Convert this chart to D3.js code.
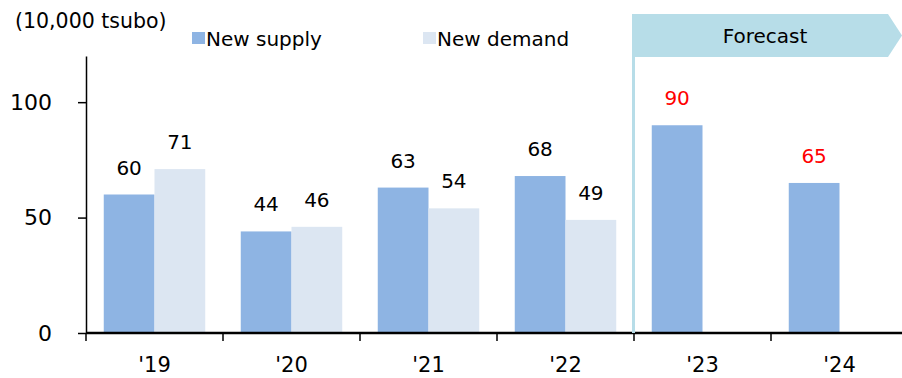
<!DOCTYPE html>
<html>
<head>
<meta charset="utf-8">
<script src="https://cdn.jsdelivr.net/npm/d3@7/dist/d3.min.js"></script>
<style>
  html, body { margin: 0; padding: 0; background: #fff; }
  svg { display: block; font-family: "DejaVu Sans", Verdana, sans-serif; }
</style>
</head>
<body>
<svg id="chart" width="902" height="378"></svg>
<script>
// Office space supply and demand, 10,000 tsubo
const years = ["'19", "'20", "'21", "'22", "'23", "'24"];
const newSupply = [60, 44, 63, 68, 90, 65];
const newDemand = [71, 46, 54, 49, null, null];
const forecastYears = ["'23", "'24"];
const yTicks = [0, 50, 100];
const seriesNames = ["New supply", "New demand"];
const seriesColors = ["#8eb4e3", "#dce6f2"];

const svg = d3.select("#chart");
const margin = { left: 86, top: 56, bottom: 333 };

const x = d3.scaleBand().domain(years).range([margin.left, 908]).paddingInner(0).paddingOuter(0);
const sub = d3.scaleBand().domain(["supply", "demand"]).range([0, x.bandwidth()])
  .paddingInner(0).paddingOuter(0.35);
const y = d3.scaleLinear().domain([0, 120]).range([margin.bottom, margin.top]);

const rows = years.map((yr, i) => ({ year: yr, supply: newSupply[i], demand: newDemand[i] }));

// Bars
const g = svg.append("g");
["supply", "demand"].forEach((key, k) => {
  const data = rows.filter(d => d[key] != null);
  g.selectAll("rect." + key).data(data).join("rect")
    .attr("class", key)
    .attr("x", d => x(d.year) + sub(key))
    .attr("width", sub.bandwidth())
    .attr("y", d => y(d[key]))
    .attr("height", d => y(0) - y(d[key]))
    .attr("fill", seriesColors[k]);
  g.selectAll("text." + key).data(data).join("text")
    .attr("class", key)
    .attr("x", d => x(d.year) + sub(key) + sub.bandwidth() / 2)
    .attr("y", d => y(d[key]) - 20)
    .attr("text-anchor", "middle")
    .attr("font-size", 20)
    .attr("fill", d => forecastYears.includes(d.year) ? "#ff0000" : "#000")
    .text(d => d[key]);
});

// Y axis
const yAxis = svg.append("g")
  .attr("transform", `translate(${margin.left},0)`)
  .call(d3.axisLeft(y).tickValues(yTicks).tickSize(8).tickPadding(26).tickSizeOuter(0));
yAxis.select(".domain").attr("stroke", "#000").attr("stroke-width", 1.5);
yAxis.selectAll(".tick line").attr("stroke", "#000").attr("stroke-width", 1.5);
yAxis.selectAll(".tick text").attr("font-size", 22).attr("fill", "#000")
  .attr("font-family", "DejaVu Sans, Verdana, sans-serif");

// X axis
const xAxis = svg.append("g")
  .attr("transform", `translate(0,${margin.bottom})`)
  .call(d3.axisBottom(x).tickSize(0).tickPadding(24).tickSizeOuter(0));
xAxis.select(".domain").remove();
xAxis.selectAll(".tick text").attr("font-size", 21).attr("fill", "#000")
  .attr("font-family", "DejaVu Sans, Verdana, sans-serif");
svg.append("line")
  .attr("x1", margin.left).attr("x2", 902)
  .attr("y1", margin.bottom).attr("y2", margin.bottom)
  .attr("stroke", "#000").attr("stroke-width", 2.5);
svg.append("g").selectAll("line").data(years).join("line")
  .attr("x1", d => x(d)).attr("x2", d => x(d))
  .attr("y1", margin.bottom).attr("y2", margin.bottom + 8)
  .attr("stroke", "#000").attr("stroke-width", 1.5);

// Forecast banner and divider
const fx = x(forecastYears[0]) - 1;
const bTop = 14, bBot = 57;
svg.append("rect")
  .attr("x", fx - 1).attr("y", bTop).attr("width", 3).attr("height", margin.bottom - bTop)
  .attr("fill", "#b7dde8");
svg.append("path")
  .attr("d", `M${fx - 1},${bTop} L888,${bTop} L902,${(bTop + bBot) / 2} L888,${bBot} L${fx - 1},${bBot} Z`)
  .attr("fill", "#b7dde8");
svg.append("text")
  .attr("x", 765).attr("y", 43)
  .attr("text-anchor", "middle").attr("font-size", 20).attr("fill", "#000")
  .text("Forecast");

// Unit label
svg.append("text").attr("x", 15).attr("y", 28).attr("font-size", 20.5).attr("fill", "#000")
  .text("(10,000 tsubo)");

// Legend
const legendX = [192, 423];
seriesNames.forEach((name, i) => {
  svg.append("rect").attr("x", legendX[i]).attr("y", 32).attr("width", 13).attr("height", 12)
    .attr("fill", seriesColors[i]);
  svg.append("text").attr("x", legendX[i] + 14).attr("y", 46).attr("font-size", 20).attr("fill", "#000")
    .text(name);
});
</script>
</body>
</html>
